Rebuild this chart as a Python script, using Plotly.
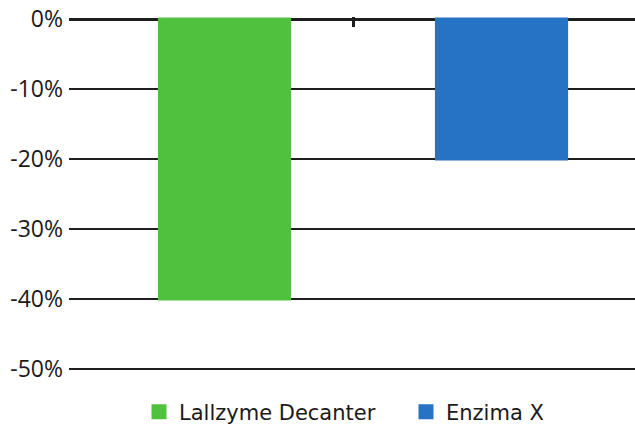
import plotly.graph_objects as go

series_names = ["Lallzyme Decanter", "Enzima X"]
series_values = [-40, -20]
series_colors = ["#50C03F", "#2673C6"]
y_tick_values = [0, -10, -20, -30, -40, -50]
y_tick_labels = ["0%", "-10%", "-20%", "-30%", "-40%", "-50%"]

fig = go.Figure()
for name, val, col in zip(series_names, series_values, series_colors):
    fig.add_trace(go.Bar(
        x=[name], y=[val], name=name,
        marker=dict(color=col, line=dict(width=3, color=col)),
    ))

fig.update_layout(
    width=635, height=425,
    margin=dict(l=69, r=0, t=17, b=54, autoexpand=False),
    paper_bgcolor="white", plot_bgcolor="white",
    barmode="overlay", bargap=0.53,
    showlegend=True,
    legend=dict(
        orientation="h", x=0.5954, xanchor="center", y=-0.116, yanchor="middle",
        font=dict(family="DejaVu Sans", size=21, color="#1a1a1a"),
        itemwidth=30, tracegroupgap=0, entrywidth=222,
    ),
    xaxis=dict(
        type="category", automargin=False,
        categoryorder="array", categoryarray=series_names,
        range=[-0.5614, 1.4819],
        side="top",
        showgrid=False, zeroline=False, showline=False,
        ticks="inside", ticklen=10, tickwidth=3, tickcolor="#1e1e1e",
        tickmode="array", tickvals=[0.464], ticktext=[""],
        showticklabels=False,
    ),
    yaxis=dict(
        range=[-50.286, 0.286], automargin=False,
        tickmode="array", tickvals=y_tick_values, ticktext=y_tick_labels,
        showgrid=True, gridcolor="#1e1e1e", gridwidth=2,
        zeroline=True, zerolinecolor="#1e1e1e", zerolinewidth=3,
        showline=False, ticks="", ticklabelstandoff=5,
        ticklabeloverflow="allow",
        tickfont=dict(family="Open Sans", size=23, color="#1a1a1a"),
    ),
)

fig.write_html(
    "out.html",
    config={"displayModeBar": False},
    post_script="document.body.style.margin='0';document.body.style.overflow='hidden';",
)
